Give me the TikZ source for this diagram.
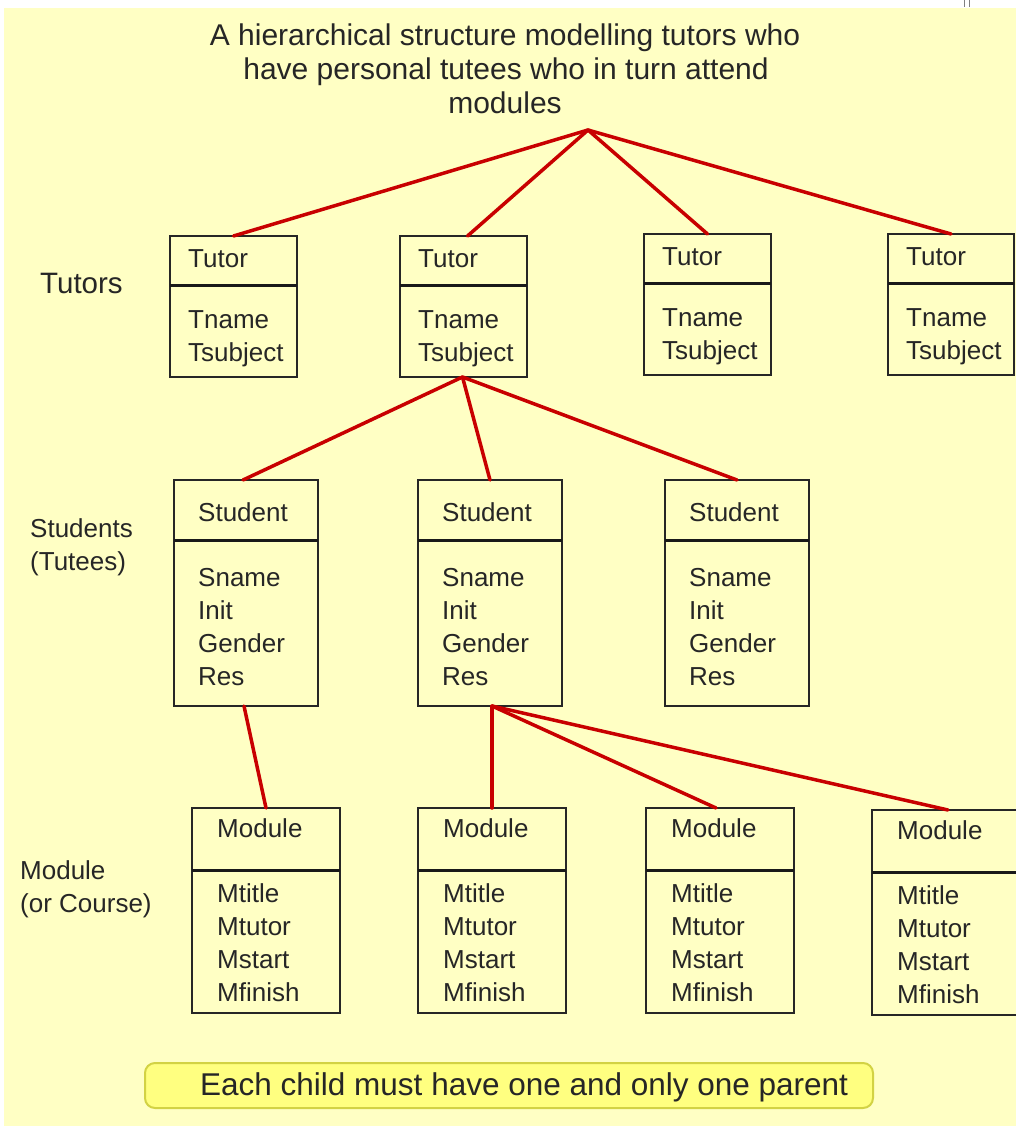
\documentclass[tikz,border=0pt]{standalone}
\usepackage{fontspec}
\setmainfont{Liberation Sans}
\usetikzlibrary{calc}

\definecolor{pagebg}{HTML}{FFFFC4}
\definecolor{linkred}{HTML}{C80000}
\definecolor{inkgrey}{HTML}{262626}
\definecolor{bannerfill}{HTML}{FFFF80}
\definecolor{bannerrim}{HTML}{D2D244}

\tikzset{
  entity/.style={draw=black!85, line width=2, inner sep=0, outer sep=0},
  divider/.style={draw=black!90, line width=3},
  boxtext/.style={anchor=base west, inner sep=0, text=inkgrey,
    font=\fontsize{26}{30}\selectfont},
  sidelabel/.style={anchor=base west, inner sep=0, text=inkgrey,
    font=\fontsize{26}{30}\selectfont},
  titletext/.style={anchor=base, inner sep=0, text=inkgrey,
    font=\fontsize{30}{34}\selectfont},
  link/.style={draw=linkred, line width=3.5, line cap=round},
  banner/.style={draw=bannerrim, fill=bannerfill, line width=2,
    rounded corners=10, inner sep=0, outer sep=0},
}

% #1 name, #2-#5 box corners, #6 divider y, #7 header baseline, #8 header, #9 fields
\newcommand\entitybox[9]{%
  \node[entity, minimum width={#4-#2}, minimum height={#5-#3}] (#1)
    at ({(#2+#4)/2},{(#3+#5)/2}) {};
  \draw[divider] (#2,#6) -- (#4,#6);
  \node[boxtext] (#1-head) at ({#2+\txoff},#7) {#8};
  \foreach \fld [count=\k] in {#9}
    \node[boxtext] (#1-f\k) at ({#2+\txoff},{#7+\fgap+(\k-1)*33}) {\fld};
}

\begin{document}
\begin{tikzpicture}[x=1pt,y=-1pt]
  \clip (0,0) rectangle (1016,1126);
  \fill[white] (0,0) rectangle (1016,1126);
  \fill[pagebg] (4,8) rectangle (1016,1126);
  \draw[gray, line width=1] (964,0) -- (964,7) (969,0) -- (969,7);

  % heading
  \node[titletext] (title1) at (505,46) {A hierarchical structure modelling tutors who};
  \node[titletext] (title2) at (506,80) {have personal tutees who in turn attend};
  \node[titletext] (title3) at (505,114) {modules};
  \coordinate (apex) at (588,130);

  % level labels
  \node[sidelabel, font=\fontsize{29.5}{34}\selectfont] (lbltutors) at (40,293) {Tutors};
  \node[sidelabel] (lblstud1) at (30,537) {Students};
  \node[sidelabel] (lblstud2) at (30,570) {(Tutees)};
  \node[sidelabel] (lblmod1) at (20,879) {Module};
  \node[sidelabel] (lblmod2) at (20,912) {(or Course)};

  % tutors
  \def\txoff{18}\def\fgap{61}
  \entitybox{t1}{170}{236}{297}{377}{285}{267}{Tutor}{Tname,Tsubject}
  \entitybox{t2}{400}{236}{527}{377}{285}{267}{Tutor}{Tname,Tsubject}
  \entitybox{t3}{644}{234}{771}{375}{283}{265}{Tutor}{Tname,Tsubject}
  \entitybox{t4}{888}{234}{1014}{375}{283}{265}{Tutor}{Tname,Tsubject}

  % students
  \def\txoff{24}\def\fgap{65}
  \entitybox{s1}{174}{480}{318}{706}{540}{521}{Student}{Sname,Init,Gender,Res}
  \entitybox{s2}{418}{480}{562}{706}{540}{521}{Student}{Sname,Init,Gender,Res}
  \entitybox{s3}{665}{480}{809}{706}{540}{521}{Student}{Sname,Init,Gender,Res}

  % modules
  \def\txoff{25}\def\fgap{65}
  \entitybox{m1}{192}{808}{340}{1013}{870}{837}{Module}{Mtitle,Mtutor,Mstart,Mfinish}
  \entitybox{m2}{418}{808}{566}{1013}{870}{837}{Module}{Mtitle,Mtutor,Mstart,Mfinish}
  \entitybox{m3}{646}{808}{794}{1013}{870}{837}{Module}{Mtitle,Mtutor,Mstart,Mfinish}
  \entitybox{m4}{872}{810}{1020}{1015}{872}{839}{Module}{Mtitle,Mtutor,Mstart,Mfinish}

  % parent-child links
  \draw[link] (apex) -- (t1.north);
  \draw[link] (apex) -- ($(t2.north)+(4,0)$);
  \draw[link] (apex) -- (t3.north);
  \draw[link] (apex) -- (t4.north);

  \coordinate (t2hub) at ($(t2.south)+(-1,0)$);
  \draw[link] (t2hub) -- ($(s1.north)+(-3,0)$);
  \draw[link] (t2hub) -- (s2.north);
  \draw[link] (t2hub) -- (s3.north);

  \draw[link] ($(s1.south)+(-2,0)$) -- (m1.north);

  \coordinate (s2hub) at ($(s2.south)+(2,0)$);
  \draw[link] (s2hub) -- (m2.north);
  \draw[link] (s2hub) -- ($(m3.north)+(-4,0)$);
  \draw[link] (s2hub) -- ($(m4.north)+(2,0)$);

  % footer rule
  \node[banner, minimum width=728, minimum height=45] (rulebox) at (509,1085.5) {};
  \node[anchor=base west, inner sep=0, text=inkgrey,
        font=\fontsize{31.5}{36}\selectfont] (ruletext) at (200,1095)
        {Each child must have one and only one parent};
\end{tikzpicture}
\end{document}
